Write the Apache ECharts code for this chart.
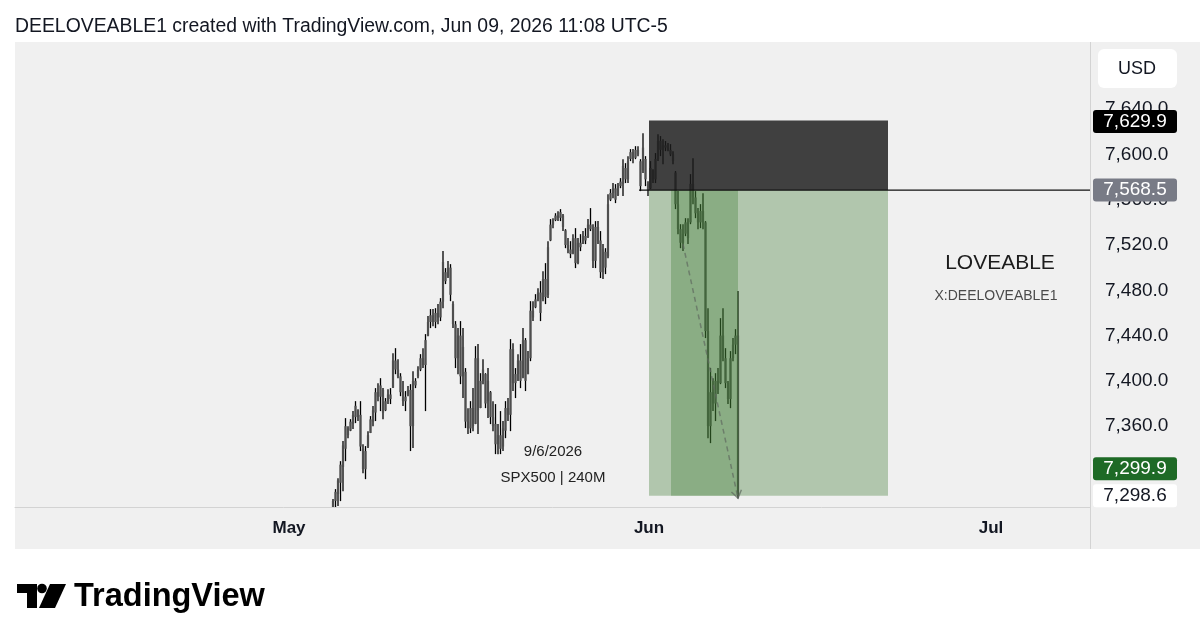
<!DOCTYPE html>
<html><head><meta charset="utf-8">
<style>html,body{margin:0;padding:0;background:#fff;} #c{width:1200px;height:643px;}</style>
<script src="https://cdn.jsdelivr.net/npm/echarts@6.0.0/dist/echarts.min.js"></script>
</head><body><div id="c"></div>
<script>
// OHLC bars, 240M, [open, high, low, close]
const bars = [
[7287,7295.6,7285.0,7294],[7294,7304.4,7288.5,7302],[7300,7314.1,7289.4,7312],[7310,7329.1,7293.8,7326],
[7324,7346.8,7302.6,7343],[7340,7367.1,7329.1,7360],[7358,7360.0,7349.4,7352],[7356,7366.2,7355.6,7364],
[7362,7373.3,7357.4,7370],[7368,7382.1,7362.7,7378],[7374,7375.0,7364.5,7368],[7370,7382.1,7338.0,7342],
[7340,7344.1,7318.5,7322],[7322,7342.4,7313.2,7338],[7342,7355.6,7340.6,7352],[7354,7368.9,7353.9,7366],
[7364,7377.7,7360.0,7374],[7372,7393.6,7364.5,7390],[7390,7398.0,7382.1,7386],[7386,7402.4,7373.3,7396],
[7392,7393.6,7366.2,7372],[7374,7384.8,7373.3,7382],[7382,7392.7,7379.5,7388],[7388,7393.6,7379.5,7384],
[7394,7424.5,7393.6,7418],[7418,7428.9,7405.9,7410],[7410,7419.2,7402.4,7404],[7404,7406.8,7386.5,7390],
[7390,7399.8,7377.7,7382],[7382,7391.0,7373.3,7386],[7388,7395.4,7386.5,7392],[7392,7397.1,7338.0,7360],
[7360,7408.6,7340.6,7400],[7400,7402.4,7393.6,7396],[7404,7413.0,7402.4,7410],[7410,7423.6,7408.6,7420],
[7420,7428.9,7411.3,7414],[7414,7441.3,7373.3,7436],[7440,7457.2,7439.5,7452],[7452,7463.4,7446.6,7458],
[7458,7463.4,7448.3,7452],[7452,7464.2,7446.6,7460],[7460,7467.8,7450.1,7456],[7456,7473.1,7452.8,7470],
[7470,7514.6,7464.2,7505],[7496,7499.6,7485.5,7488],[7492,7505.8,7490.8,7500],[7500,7503.1,7470.4,7476],
[7468,7470.4,7446.6,7450],[7450,7452.8,7411.3,7420],[7420,7446.6,7405.9,7440],[7440,7452.8,7397.1,7404],
[7404,7446.6,7384.8,7430],[7408,7411.3,7358.3,7364],[7364,7375.9,7353.0,7358],[7358,7382.1,7353.9,7376],
[7376,7393.6,7355.6,7360],[7362,7430.7,7361.8,7420],[7420,7432.5,7353.0,7374],[7376,7406.8,7375.9,7400],
[7400,7419.2,7397.1,7410],[7406,7406.8,7375.9,7380],[7382,7411.3,7367.1,7400],[7390,7391.0,7361.8,7368],
[7368,7382.1,7355.6,7360],[7362,7379.5,7335.3,7344],[7344,7361.8,7335.3,7352],[7352,7373.3,7335.3,7340],
[7342,7364.5,7338.0,7358],[7356,7382.1,7349.4,7376],[7376,7384.8,7364.5,7370],[7370,7436.9,7355.6,7428],
[7428,7433.3,7391.0,7398],[7398,7411.3,7384.8,7406],[7406,7423.6,7399.8,7418],[7418,7432.5,7393.6,7400],
[7403,7446.6,7402.4,7436],[7436,7437.8,7391.0,7400],[7406,7426.3,7405.9,7420],[7420,7470.4,7417.4,7462],
[7462,7470.4,7452.8,7456],[7465,7476.6,7464.2,7472],[7472,7481.9,7470.4,7478],[7478,7488.1,7452.8,7460],
[7472,7496.9,7470.4,7490],[7490,7504.0,7467.8,7474],[7476,7523.4,7473.1,7518],[7524,7542.9,7523.4,7538],
[7538,7543.7,7534.9,7542],[7542,7548.1,7541.1,7546],[7546,7549.9,7541.1,7544],[7544,7551.7,7541.1,7549],
[7546,7547.3,7532.3,7536],[7533,7534.0,7517.2,7520],[7520,7526.1,7512.8,7516],[7516,7523.4,7508.4,7512],
[7513,7529.6,7511.9,7526],[7526,7534.9,7499.6,7504],[7504,7526.1,7503.1,7522],[7522,7529.6,7514.6,7518],
[7521,7532.3,7520.8,7528],[7528,7534.9,7520.8,7524],[7527,7542.9,7526.1,7538],[7538,7552.6,7532.3,7534],
[7534,7538.4,7499.6,7506],[7506,7541.1,7499.6,7536],[7536,7541.1,7520.8,7524],[7524,7532.3,7490.8,7496],
[7496,7520.8,7489.9,7516],[7514,7517.2,7494.3,7500],[7510,7564.9,7508.4,7556],[7560,7569.4,7558.8,7566],
[7566,7574.7,7561.4,7570],[7570,7573.8,7557.0,7560],[7564,7574.7,7563.2,7572],[7572,7579.1,7570.2,7576],
[7574,7595.8,7563.2,7590],[7588,7592.3,7574.7,7578],[7578,7598.5,7574.7,7594],[7596,7604.7,7594.1,7602],
[7602,7604.7,7592.3,7596],[7597,7607.3,7595.8,7604],[7604,7607.3,7598.5,7600],[7594,7595.8,7567.6,7572],
[7586,7618.8,7583.5,7606],[7596,7598.5,7572.0,7578],[7574,7576.4,7563.2,7568],[7570,7594.1,7569.4,7588],
[7586,7587.0,7574.7,7578],[7578,7601.2,7574.7,7596],[7596,7617.9,7594.1,7612],[7612,7616.2,7598.5,7604],
[7604,7613.5,7591.4,7608],[7608,7611.8,7602.9,7606],[7606,7610.0,7602.9,7604],[7604,7609.1,7598.5,7600],
[7600,7602.9,7591.4,7594],[7584,7585.3,7551.7,7556],[7556,7567.6,7529.6,7534],[7534,7538.4,7517.2,7522],
[7522,7538.4,7514.6,7530],[7530,7543.7,7527.8,7540],[7540,7543.7,7520.8,7526],[7540,7582.6,7538.4,7574],
[7574,7596.7,7556.1,7562],[7562,7567.6,7543.7,7548],[7548,7552.6,7534.0,7540],[7540,7556.1,7534.9,7550],
[7550,7565.8,7534.0,7540],[7540,7541.1,7437.8,7444],[7444,7464.2,7349.4,7360],[7360,7411.3,7345.0,7390],
[7390,7402.4,7373.3,7380],[7380,7406.8,7364.5,7400],[7400,7411.3,7388.3,7392],[7398,7455.4,7397.1,7440],
[7440,7464.2,7417.4,7420],[7420,7428.9,7393.6,7398],[7398,7399.8,7379.5,7384],[7384,7426.3,7375.9,7420],
[7420,7437.8,7417.4,7432],[7432,7445.7,7423.6,7440],[7440,7479.3,7296.0,7298.6]
];
const priceTicks = [7360, 7400, 7440, 7480, 7520, 7560, 7600, 7640];
const monthLabels = ['May', 'Jun', 'Jul'];
const monthBarPos = [-17.6, 126.4, 263.2];
// position tool: [barStart, barEnd, priceTop, priceBottom]
const stopZone = [126.4, 222, 7629.9, 7568.5];
const targetZone = [126.4, 222, 7568.5, 7298.6];
const filledZone = [135.2, 162, 7568.5, 7298.6];
const entryLine = [[122.4, 7568.5], [302.8, 7568.5]];
const pathLine = [[140, 7520.8], [162, 7296.4]];
const tagValues = [7629.9, 7568.5, 7299.9, 7298.6];
const tagAnchors = [7629.9, 7568.5, 7298.6, 7298.6];

const X_MIN = -127.2, X_MAX = 302.8, Y_MIN = 7288.6, Y_MAX = 7699.3;
const FONT = 'Liberation Sans, Arial, Helvetica, sans-serif';
const fmt = v => v.toLocaleString('en-US', {minimumFractionDigits: 1, maximumFractionDigits: 1});

const tagStyles = [
  {bg: '#000000', fg: '#ffffff', dy: 1},
  {bg: '#787b86', fg: '#ffffff', dy: 0},
  {bg: '#1e6a26', fg: '#ffffff', dy: -27},
  {bg: '#ffffff', fg: '#131722', dy: 0}
];
const zoneStyles = ['rgba(28,28,28,0.83)', 'rgba(60,120,49,0.35)', 'rgba(60,120,49,0.33)'];

const chart = echarts.init(document.getElementById('c'), null, {renderer: 'canvas'});
const option = {
  animation: false,
  backgroundColor: '#ffffff',
  grid: {left: 15, right: 110, top: 42, bottom: 136, containLabel: false},
  xAxis: {
    type: 'value', min: X_MIN, max: X_MAX,
    axisLine: {show: true, lineStyle: {color: '#d3d3d3', width: 1}},
    axisTick: {show: false}, splitLine: {show: false},
    axisLabel: {
      customValues: monthBarPos,
      formatter: v => { const k = monthBarPos.findIndex(p => Math.abs(p - v) < 0.01); return k >= 0 ? monthLabels[k] : ''; },
      margin: 13, fontSize: 17, fontWeight: 'bold', color: '#131722', fontFamily: FONT
    }
  },
  yAxis: {
    type: 'value', position: 'right', min: Y_MIN, max: Y_MAX, scale: true,
    axisLine: {show: false}, axisTick: {show: false}, splitLine: {show: false},
    axisLabel: {customValues: priceTicks, formatter: v => fmt(v), margin: 15, fontSize: 19, color: '#131722', fontFamily: FONT, align: 'left'}
  },
  graphic: [
    {type: 'rect', z: -10, shape: {x: 15, y: 42, width: 1185, height: 507}, style: {fill: '#f0f0f0'}},
    {type: 'line', z: 1, shape: {x1: 1090.5, y1: 42, x2: 1090.5, y2: 549}, style: {stroke: '#d3d3d3', lineWidth: 1}},
    {type: 'text', style: {text: 'DEELOVEABLE1 created with TradingView.com, Jun 09, 2026 11:08 UTC-5', x: 15, y: 27, font: '19.4px ' + FONT, fill: '#131722', verticalAlign: 'middle', textVerticalAlign: 'middle'}},
    {type: 'rect', shape: {x: 1098, y: 49, width: 79, height: 39, r: 6}, style: {fill: '#ffffff'}},
    {type: 'text', style: {text: 'USD', x: 1137, y: 69, font: '18px ' + FONT, fill: '#131722', align: 'center', verticalAlign: 'middle', textAlign: 'center', textVerticalAlign: 'middle'}},
    {type: 'text', style: {text: 'LOVEABLE', x: 1000, y: 263, font: '21px ' + FONT, fill: '#1c1c1c', align: 'center', verticalAlign: 'middle', textAlign: 'center', textVerticalAlign: 'middle'}},
    {type: 'text', style: {text: 'X:DEELOVEABLE1', x: 996, y: 296, font: '14px ' + FONT, fill: '#4a4a4a', align: 'center', verticalAlign: 'middle', textAlign: 'center', textVerticalAlign: 'middle'}},
    {type: 'text', style: {text: '9/6/2026', x: 553, y: 452, font: '15px ' + FONT, fill: '#222222', align: 'center', verticalAlign: 'middle', textAlign: 'center', textVerticalAlign: 'middle'}},
    {type: 'text', style: {text: 'SPX500 | 240M', x: 553, y: 478, font: '15px ' + FONT, fill: '#222222', align: 'center', verticalAlign: 'middle', textAlign: 'center', textVerticalAlign: 'middle'}},
    // TradingView logo
    {type: 'polygon', shape: {points: [[17, 584], [37, 584], [37, 608], [27, 608], [27, 593], [17, 593]]}, style: {fill: '#000'}},
    {type: 'circle', shape: {cx: 42, cy: 588.5, r: 4.8}, style: {fill: '#000'}},
    {type: 'polygon', shape: {points: [[50, 584], [66, 584], [55, 608], [39, 608]]}, style: {fill: '#000'}},
    {type: 'text', style: {text: 'TradingView', x: 74, y: 597, font: 'bold 32.5px ' + FONT, fill: '#000', verticalAlign: 'middle', textVerticalAlign: 'middle'}}
  ],
  series: [
    {
      type: 'custom', name: 'SPX500', clip: true, z: 3,
      data: bars.map((b, i) => [i, b[0], b[1], b[2], b[3]]),
      encode: {x: 0, y: [1, 2, 3, 4]},
      renderItem: (params, api) => {
        const i = api.value(0);
        const po = api.coord([i, api.value(1)]), ph = api.coord([i, api.value(2)]);
        const pl = api.coord([i, api.value(3)]), pc = api.coord([i, api.value(4)]);
        const x = ph[0];
        const top = Math.min(po[1], pc[1]), bot = Math.max(po[1], pc[1]);
        return {type: 'group', children: [
          {type: 'line', shape: {x1: x, y1: ph[1], x2: x, y2: pl[1]}, style: {stroke: '#000000', lineWidth: 1.3}},
          {type: 'rect', shape: {x: x - 1.1, y: top, width: 2.2, height: Math.max(1, bot - top)}, style: {fill: '#4e4e4e'}}
        ]};
      }
    },
    {
      type: 'custom', name: 'zones', clip: true, z: 4,
      data: [stopZone, targetZone, filledZone],
      encode: {x: [0, 1], y: [2, 3]},
      renderItem: (params, api) => {
        const a = api.coord([api.value(0), api.value(2)]);
        const b = api.coord([api.value(1), api.value(3)]);
        return {type: 'rect', shape: {x: a[0], y: a[1], width: b[0] - a[0], height: b[1] - a[1]}, style: {fill: zoneStyles[params.dataIndex]}};
      }
    },
    {
      type: 'line', name: 'entry', data: entryLine, symbol: 'none', z: 5,
      lineStyle: {color: '#111111', width: 1.2}
    },
    {
      type: 'custom', name: 'path', clip: false, z: 6,
      data: [[pathLine[0][0], pathLine[0][1], pathLine[1][0], pathLine[1][1]]],
      encode: {x: [0, 2], y: [1, 3]},
      renderItem: (params, api) => {
        const s = api.coord([api.value(0), api.value(1)]);
        const e = api.coord([api.value(2), api.value(3)]);
        let dx = s[0] - e[0], dy = s[1] - e[1];
        const len = Math.hypot(dx, dy); dx /= len; dy /= len;
        const rot = (ang) => [dx * Math.cos(ang) - dy * Math.sin(ang), dx * Math.sin(ang) + dy * Math.cos(ang)];
        const r1 = rot(0.6), r2 = rot(-0.6), L = 9;
        return {type: 'group', children: [
          {type: 'line', shape: {x1: s[0], y1: s[1], x2: e[0], y2: e[1]}, style: {stroke: 'rgba(95,105,95,0.7)', lineWidth: 1.5, lineDash: [5, 4]}},
          {type: 'polyline', shape: {points: [[e[0] + r1[0] * L, e[1] + r1[1] * L], [e[0], e[1]], [e[0] + r2[0] * L, e[1] + r2[1] * L]]}, style: {stroke: 'rgba(95,105,95,0.7)', lineWidth: 1.5, fill: 'none'}}
        ]};
      }
    },
    {
      type: 'custom', name: 'tags', clip: false, z: 10,
      data: tagValues.map((v, k) => [X_MAX, tagAnchors[k], v]),
      encode: {x: 0, y: 1},
      renderItem: (params, api) => {
        const st = tagStyles[params.dataIndex];
        const p = api.coord([api.value(0), api.value(1)]);
        const cy = p[1] + st.dy;
        return {type: 'group', children: [
          {type: 'rect', shape: {x: 1093, y: cy - 11.5, width: 84, height: 23, r: 3}, style: {fill: st.bg}},
          {type: 'text', style: {text: fmt(api.value(2)), x: 1135, y: cy, font: '19px ' + FONT, fill: st.fg, align: 'center', verticalAlign: 'middle', textAlign: 'center', textVerticalAlign: 'middle'}}
        ]};
      }
    }
  ]
};
chart.setOption(option);
</script>
</body></html>
